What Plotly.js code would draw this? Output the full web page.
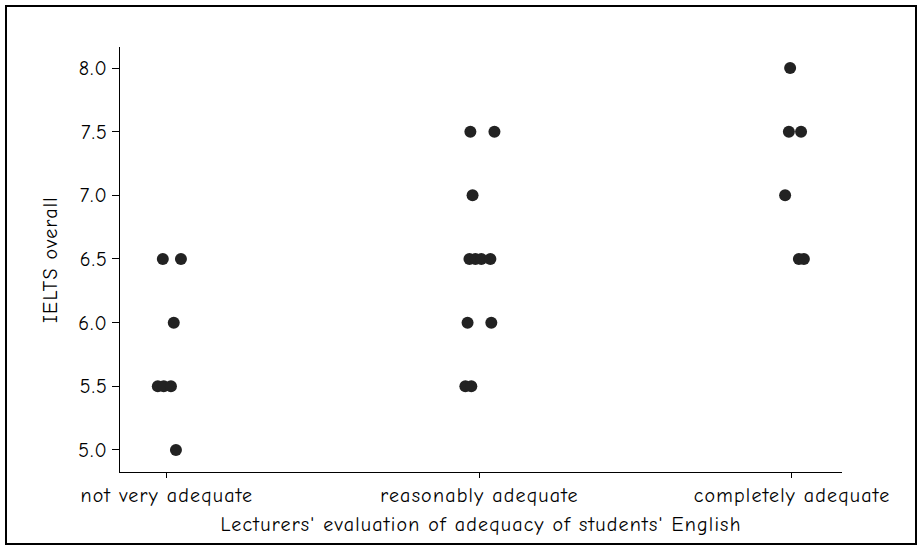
<!DOCTYPE html>
<html>
<head>
<meta charset="utf-8">
<script src="https://cdn.plot.ly/plotly-3.0.1.min.js"></script>
<style>
  body { margin: 0; background: #fff; }
  #wrap { position: relative; width: 923px; height: 551px; }
  #chart { width: 923px; height: 551px; }
  #chart text { letter-spacing: 1.2px; }
  #frame {
    position: absolute; left: 5px; top: 5px; width: 908px; height: 536px;
    border: 2px solid #000; pointer-events: none;
  }
</style>
</head>
<body>
<div id="wrap">
  <div id="chart"></div>
  <div id="frame"></div>
</div>
<script>
// categories on the x axis
const categories = ['not very adequate', 'reasonably adequate', 'completely adequate'];

// one entry per student: category index, IELTS overall score, horizontal jitter (category units)
const group = [0, 0, 0, 0, 0, 0, 0,
               1, 1, 1, 1, 1, 1, 1, 1, 1, 1, 1,
               2, 2, 2, 2, 2, 2];
const ielts = [6.5, 6.5, 6.0, 5.5, 5.5, 5.5, 5.0,
               7.5, 7.5, 7.0, 6.5, 6.5, 6.5, 6.5, 6.0, 6.0, 5.5, 5.5,
               8.0, 7.5, 7.5, 7.0, 6.5, 6.5];
const jitter = [-0.013, 0.045, 0.022, -0.029, -0.010, 0.013, 0.029,
                -0.029, 0.048, -0.022, -0.032, -0.013, 0.006, 0.035, -0.038, 0.038, -0.045, -0.026,
                -0.006, -0.010, 0.029, -0.022, 0.022, 0.038];

const yTicks = [5.0, 5.5, 6.0, 6.5, 7.0, 7.5, 8.0];

const font = "'Comic Sans MS', 'Comic Neue', 'DejaVu Sans', sans-serif";

const trace = {
  x: group.map((g, i) => g + jitter[i]),
  y: ielts,
  type: 'scatter',
  mode: 'markers',
  marker: { size: 12, color: '#222222' },
  hoverinfo: 'y'
};

const layout = {
  width: 923,
  height: 551,
  margin: { l: 120, r: 81, t: 47, b: 79 },
  paper_bgcolor: '#ffffff',
  plot_bgcolor: '#ffffff',
  showlegend: false,
  font: { family: font, size: 20, color: '#000000' },
  xaxis: {
    range: [-0.15, 2.16],
    tickvals: categories.map((c, i) => i),
    ticktext: categories,
    showgrid: false,
    zeroline: false,
    showline: true,
    linecolor: '#000000',
    linewidth: 1,
    ticks: 'outside',
    ticklen: 5,
    tickcolor: '#000000',
    tickfont: { family: font, size: 20 },
    title: { text: "Lecturers' evaluation of adequacy of students' English", font: { family: font, size: 20 }, standoff: 10 }
  },
  yaxis: {
    range: [4.827, 8.165],
    tickvals: yTicks,
    ticktext: yTicks.map(v => v.toFixed(1)),
    showgrid: false,
    zeroline: false,
    showline: true,
    linecolor: '#000000',
    linewidth: 1,
    ticks: 'outside',
    ticklen: 7,
    tickcolor: '#000000',
    tickfont: { family: font, size: 20 },
    title: { text: 'IELTS overall', font: { family: font, size: 20 }, standoff: 18 }
  }
};

Plotly.newPlot('chart', [trace], layout, { displayModeBar: false, staticPlot: true });
</script>
</body>
</html>
